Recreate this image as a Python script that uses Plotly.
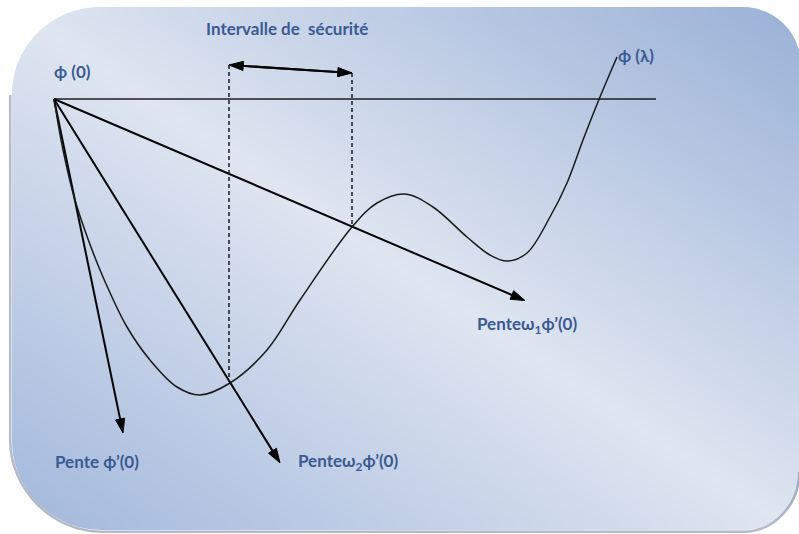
import plotly.graph_objects as go

# --- phi(lambda) sampled along the line search -------------------------
lam = [0, 0.09, 0.21, 0.34, 0.49, 0.73, 0.96, 1.23, 1.46, 1.76, 2.13, 2.46,
       2.98, 3.23, 3.51, 3.79, 4.13, 4.36, 4.53, 4.73, 4.96, 5.13, 5.29,
       5.46, 5.63]
phi = [0, -0.51, -1.01, -1.40, -1.78, -2.28, -2.61, -2.88, -2.96, -2.84,
       -2.51, -2.01, -1.28, -1.04, -0.95, -1.08, -1.38, -1.56, -1.62, -1.54,
       -1.18, -0.84, -0.41, 0.02, 0.42]

# slope rays from phi(0): phi'(0), w2*phi'(0), w1*phi'(0)
slope_labels = ["Pente ϕ’(0)", "Penteω<sub>2</sub>ϕ’(0)", "Penteω<sub>1</sub>ϕ’(0)"]
slopes = [-4.84, -1.61, -0.428]
slope_ends = [0.69, 2.26, 4.71]

# safe interval bounds (where phi crosses the w2 and w1 rays)
safe_bounds = [1.75, 2.98]
phi0_line_end = 6.02

TXT = "#3a5a92"
FONT = "Lato"
INK = "#050505"

fig = go.Figure()

# ---------------- background panel (pixel frame on x / y) ----------------
X0, X1, Y0, Y1 = 12, 801, 7, 530
nx, ny = 40, 27
sx, sy = (X1 - X0) / nx, (Y1 - Y0) / ny
gx = [X0 + sx * (i + 0.5) for i in range(nx)]
gy = [Y0 + sy * (j + 0.5) for j in range(ny)]
gz = [[x / 799 - y / 534 for x in gx] for y in gy]
fig.add_trace(go.Heatmap(
    x=gx, y=gy, z=gz, zmin=-1, zmax=1, zsmooth="best", showscale=False,
    colorscale=[[0, "#a0b6db"], [0.5, "#dfe5f1"], [1, "#98b0d6"]],
    hoverinfo="skip", xaxis="x", yaxis="y"))

# ---------------- diagram (lambda / phi on x2 / y2) ----------------
line_kw = dict(xaxis="x2", yaxis="y2", hoverinfo="skip", showlegend=False)


def arrow_marker(sizes):
    return dict(symbol="arrow", angleref="previous", size=sizes, color=INK,
                opacity=1, line=dict(width=1, color=INK))


fig.add_trace(go.Scatter(x=[0, phi0_line_end], y=[0, 0], mode="lines",
                         line=dict(color="#1e1e1e", width=1.5), **line_kw))

# slope rays ending in arrow heads
for s, e in zip(slopes, slope_ends):
    fig.add_trace(go.Scatter(x=[0, e], y=[0, s * e], mode="lines+markers",
                             line=dict(color=INK, width=2),
                             marker=arrow_marker([0, 15]), **line_kw))

fig.add_trace(go.Scatter(x=lam, y=phi, mode="lines",
                         line=dict(color="#1a1a1a", width=1.5, shape="spline", smoothing=1.0),
                         **line_kw))

# safe interval: double arrow and dashed drop lines
arrow_top = [0.34, 0.26]
fig.add_trace(go.Scatter(x=[safe_bounds[1], safe_bounds[0], safe_bounds[1]],
                         y=[arrow_top[1], arrow_top[0], arrow_top[1]],
                         mode="lines+markers", line=dict(color=INK, width=2),
                         marker=arrow_marker([0, 15, 15]), **line_kw))

bound_rays = [slopes[1], slopes[2]]
for b, top, s in zip(safe_bounds, arrow_top, bound_rays):
    fig.add_trace(go.Scatter(x=[b, b], y=[top, s * b], mode="lines",
                             line=dict(color="#1a1a1a", width=1.5, dash="4px,3px"), **line_kw))

annotations = []
label_font = dict(family=FONT, size=17, color=TXT)
labels = [
    ("<b>ϕ (0)</b>", 0.18, 0.28),
    ("<b>Intervalle de\u00a0 sécurité</b>", 2.33, 0.71),
    ("<b>ϕ (λ)</b>", 5.82, 0.44),
    ("<b>" + slope_labels[2] + "</b>", 4.73, -2.26),
    ("<b>" + slope_labels[0] + "</b>", 0.43, -3.62),
    ("<b>" + slope_labels[1] + "</b>", 2.94, -3.63),
]
for t, x, y in labels:
    annotations.append(dict(x=x, y=y, xref="x2", yref="y2", text=t, showarrow=False,
                            font=label_font, xanchor="center", yanchor="middle"))

# ---------------- rounded corners and drop shadow ----------------
K = 0.5523


def corner(cx, cy, r, sxn, syn):
    # white wedge between the box corner and a quarter circle of radius r
    ax_, ay_ = cx + sxn * r, cy
    bx_, by_ = cx, cy + syn * r
    ox, oy = cx - sxn * 4, cy - syn * 4
    return (f"M {ox},{oy} L {ax_},{oy} L {ax_},{ay_} "
            f"C {ax_ - sxn * K * r},{ay_} {bx_},{by_ - syn * K * r} {bx_},{by_} "
            f"L {ox},{by_} Z")


shapes = []
for cx, cy, r, sxn, syn in [(X0, Y0, 88, 1, 1), (X1, Y0, 58, -1, 1),
                            (X1, Y1, 58, -1, -1), (X0, Y1, 90, 1, -1)]:
    shapes.append(dict(type="path", path=corner(cx, cy, r, sxn, syn), xref="x", yref="y",
                       fillcolor="white", line=dict(width=0), layer="above"))

# soft shadow along left and bottom edges
d = 1.8
rb, rr = 90, 58
sh = (f"M {X0 - d},{Y0 + 88} L {X0 - d},{Y1 - rb} "
      f"C {X0 - d},{Y1 - rb + K * rb} {X0 + rb - K * rb},{Y1 + d} {X0 + rb},{Y1 + d} "
      f"L {X1 - rr},{Y1 + d} "
      f"C {X1 - rr + K * rr},{Y1 + d} {X1 - d},{Y1 - rr + K * rr} {X1 - d},{Y1 - rr}")
shapes.append(dict(type="path", path=sh, xref="x", yref="y",
                   line=dict(color="rgba(130,142,160,0.6)", width=2.5), layer="above"))

fig.update_layout(
    width=799, height=534, margin=dict(l=0, r=0, t=0, b=0),
    paper_bgcolor="white", plot_bgcolor="rgba(0,0,0,0)", showlegend=False,
    xaxis=dict(range=[0, 799], visible=False, domain=[0, 1], fixedrange=True),
    yaxis=dict(range=[534, 0], visible=False, domain=[0, 1], fixedrange=True),
    xaxis2=dict(range=[-0.54, 7.45], visible=False, overlaying="x", fixedrange=True),
    yaxis2=dict(range=[-4.35, 0.99], visible=False, overlaying="y", fixedrange=True),
    annotations=annotations, shapes=shapes,
)

fig.write_html("out.html")
